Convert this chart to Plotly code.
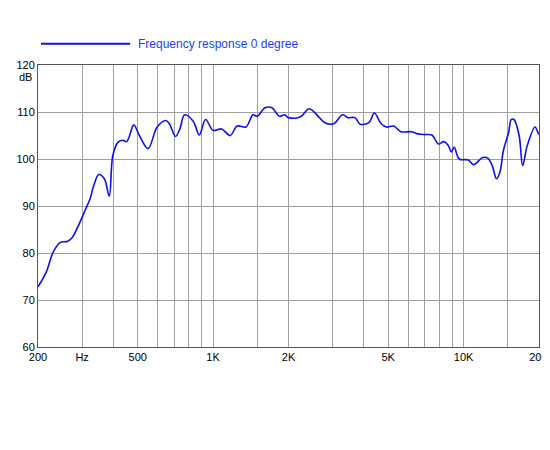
import plotly.graph_objects as go

freq = [200,216,230,245,263,275,288,308,323,334,350,368,385,398,418,435,452,476,483,508,550,598,647,669,708,737,770,834,881,933,1000,1081,1170,1248,1353,1443,1500,1612,1718,1838,1930,2000,2236,2420,2658,2790,3030,3285,3450,3684,3870,4200,4400,4690,4920,5260,5620,6200,6510,6950,7480,7930,8330,8660,8940,9170,9610,10450,10970,11900,12480,13010,13530,13960,14420,15140,15490,15890,16660,17210,17960,19290,19810,20000]
db = [72.8,76,80.2,82.2,82.5,83.4,85.5,89,91.6,94.4,96.7,95.8,92.1,100.8,103.6,104,103.7,106.8,107.3,105,102.2,106.8,108.2,107.5,104.8,106.4,109.4,108,105.1,108.4,106.1,106.4,105,107,106.8,109.4,109.1,110.9,110.9,109.1,109.4,108.8,109,110.7,108.8,107.7,107.5,109.4,108.8,108.8,107.4,107.8,109.8,107.5,106.8,107,105.8,105.8,105.4,105.2,105.1,103.2,103.7,103,101.5,102.5,100,99.8,98.8,100.3,100.2,98.6,95.8,97.2,101.8,105.7,108.4,108.4,105,98.6,102.9,106.8,105.6,105.2]

grid_f = [200,300,400,500,600,700,800,900,1000,1500,2000,3000,4000,5000,6000,7000,8000,9000,10000,15000,20000]
grid_lbl = ["200","Hz","","500","","","","","1K","","2K","","","5K","","","","","10K","","20K"]
y_vals = [60,70,80,90,100,110,120]

fig = go.Figure(go.Scatter(x=freq, y=db, mode="lines", line=dict(color="#1010ee", width=1.6), line_shape="spline", showlegend=False))
fig.update_layout(
    width=550, height=450, margin=dict(l=30, r=19, t=57, b=111),
    paper_bgcolor="white", plot_bgcolor="white",
    font=dict(family="Liberation Sans, Arial", size=11, color="black"),
    xaxis=dict(type="log", range=[2.30103, 4.30103], tickvals=grid_f, ticktext=grid_lbl, automargin=False,
               showgrid=True, gridcolor="#a0a0a0", gridwidth=1, showline=True, linecolor="#555", mirror=True,
               ticks="", zeroline=False),
    yaxis=dict(range=[60, 120], tickvals=y_vals, showgrid=True, gridcolor="#a0a0a0", gridwidth=1, automargin=False,
               showline=True, linecolor="#555", mirror=True, ticks="", zeroline=False),
)
fig.add_shape(type="line", xref="paper", yref="paper", x0=0.006, x1=0.184, y0=1.075, y1=1.075,
              line=dict(color="#1010ee", width=2))
fig.add_annotation(text="Frequency response 0 degree", xref="paper", yref="paper", x=0.196, y=1.075,
                   xanchor="left", yanchor="middle", showarrow=False, font=dict(color="#2040ff", size=12))
fig.add_annotation(text="dB", xref="paper", yref="y", x=0, y=117.4, xanchor="right", xshift=-4,
                   showarrow=False, font=dict(size=11))
fig.write_html("out.html")
